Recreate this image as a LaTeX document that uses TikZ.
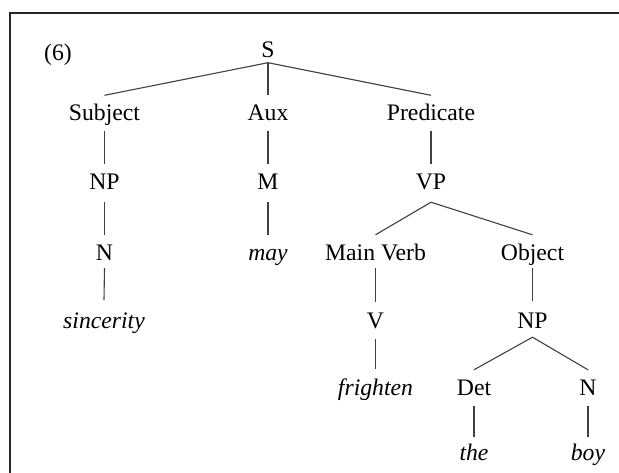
\documentclass[tikz,border=0pt]{standalone}
\usepackage{fontspec}
\setmainfont{Liberation Serif}
\begin{document}
\begin{tikzpicture}[x=1pt,y=-1pt,
  lbl/.style={anchor=base,inner sep=0pt,text height=25pt,text depth=10pt,
    font=\fontsize{23.7}{28}\selectfont},
  leaf/.style={lbl,font=\fontsize{23.7}{28}\selectfont\itshape},
  branch/.style={draw=black!75,line width=1.1pt}]
\useasboundingbox (0,0) rectangle (619,472);
\clip (0,0) rectangle (619,472);
\draw[line width=2pt,black!85] (640,13) -- (10,13) -- (10,490);
% labels
\node[lbl] (ex) at (58,60) {(6)};
\node[lbl,text depth=5.5pt] (S) at (268,57) {S};
\node[lbl] (subj) at (104.5,120.5) {Subject};
\node[lbl] (aux) at (268,120.5) {Aux};
\node[lbl] (pred) at (431,120.5) {Predicate};
\node[lbl,text depth=12.5pt] (np1) at (104.5,189.5) {NP};
\node[lbl,text depth=12.5pt] (m) at (268,189.5) {M};
\node[lbl,text depth=12.5pt] (vp) at (431,189.5) {VP};
\node[lbl,text depth=8pt] (n1) at (104.5,260) {N};
\node[leaf] (may) at (268,260) {may};
\node[lbl,text depth=8pt] (mv) at (375.5,260) {Main Verb};
\node[lbl,text depth=8pt] (obj) at (532.5,260) {Object};
\node[leaf,text height=28pt] (sinc) at (104,328) {sincerity};
\node[lbl,text height=26pt,text depth=11pt] (v) at (375.5,328) {V};
\node[lbl,text height=27pt,text depth=9pt] (np2) at (532.5,328) {NP};
\node[leaf,text height=26pt] (fr) at (375.5,395) {frighten};
\node[lbl,text height=25pt,text depth=11pt] (det) at (474,395) {Det};
\node[lbl,text height=25pt,text depth=11pt] (n2) at (588,395) {N};
\node[leaf,text height=23pt] (the) at (474,460) {the};
\node[leaf,text height=23pt] (boy) at (588,460) {boy};
% branches
\draw[branch] (subj.north) -- (S.south) -- (pred.north);
\draw[branch] (S.south) -- (aux.north);
\draw[branch] (subj.south) -- (np1.north);
\draw[branch] (np1.south) -- (n1.north);
\draw[branch] (n1.south) -- (sinc.north);
\draw[branch] (aux.south) -- (m.north);
\draw[branch] (m.south) -- (may.north);
\draw[branch] (pred.south) -- (vp.north);
\draw[branch] (mv.north) -- (vp.south) -- (obj.north);
\draw[branch] (mv.south) -- (v.north);
\draw[branch] (v.south) -- (fr.north);
\draw[branch] (obj.south) -- (np2.north);
\draw[branch] (det.north) -- (np2.south) -- (n2.north);
\draw[branch] (det.south) -- (the.north);
\draw[branch] (n2.south) -- (boy.north);
\end{tikzpicture}
\end{document}
